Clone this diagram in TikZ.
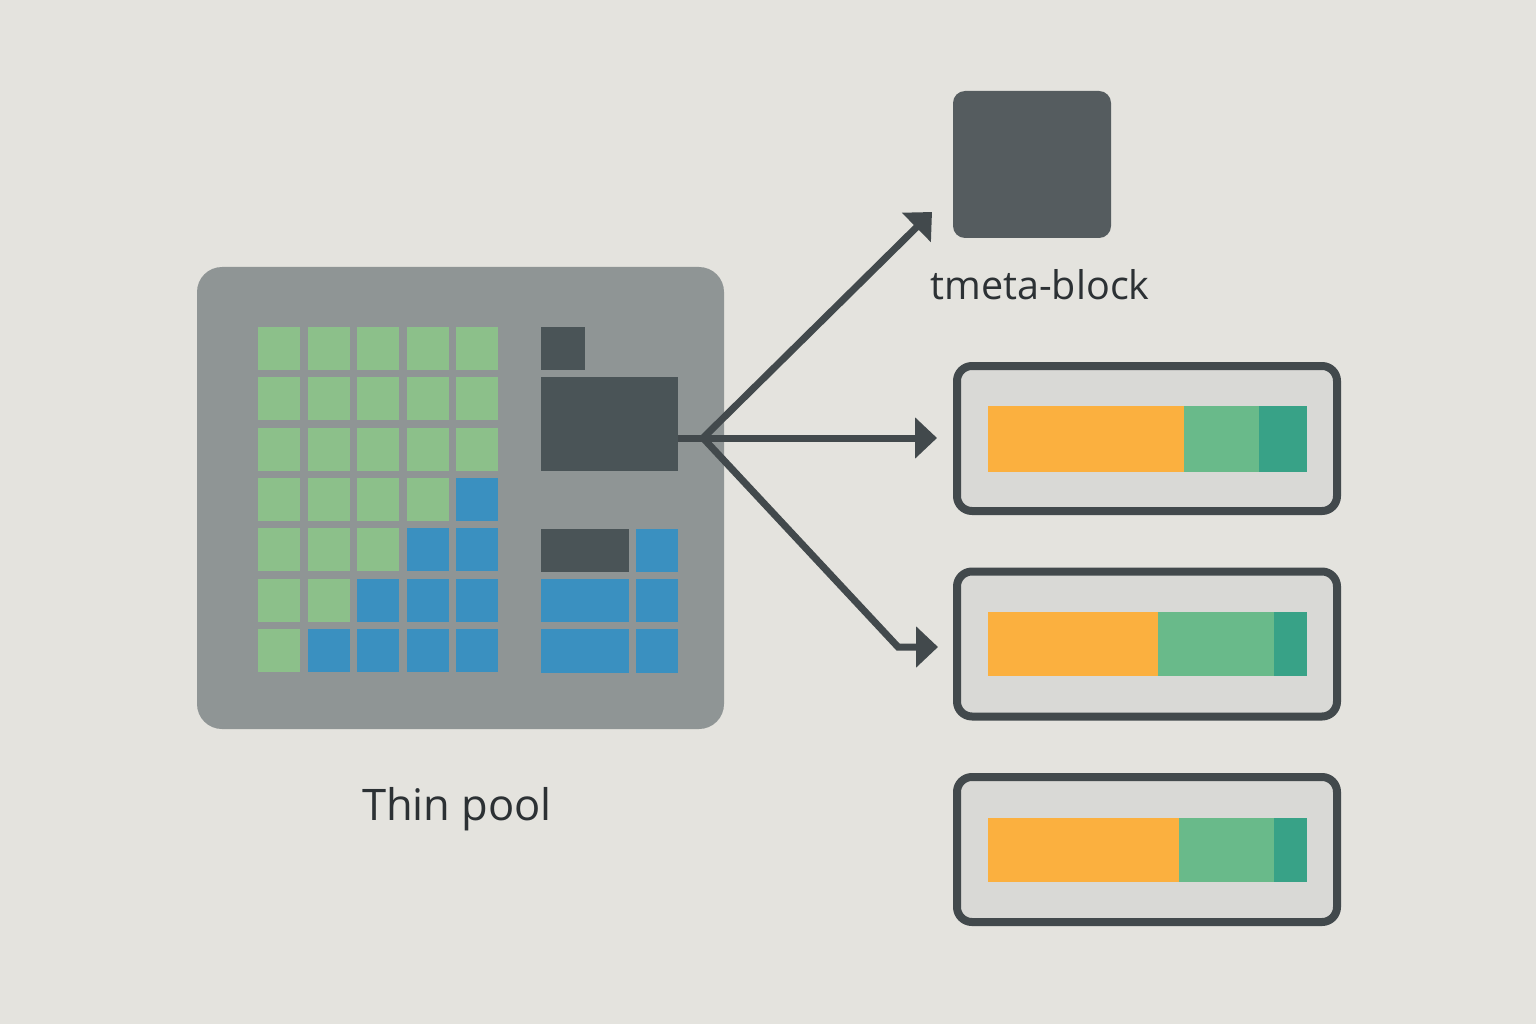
\documentclass[tikz,border=0pt]{standalone}
\usepackage{fontspec}
\setmainfont{Open Sans}
\usepackage{xcolor}
\usepackage{tikz}
\usetikzlibrary{positioning,arrows.meta}

\definecolor{bgcol}{HTML}{E4E3DE}
\definecolor{poolgray}{HTML}{8F9595}
\definecolor{usedgreen}{HTML}{8CC08A}
\definecolor{freeblue}{HTML}{3A90C0}
\definecolor{metadark}{HTML}{4A5457}
\definecolor{tmetagray}{HTML}{555C5F}
\definecolor{linkgray}{HTML}{42494C}
\definecolor{lvfill}{HTML}{D9D9D6}
\definecolor{barorange}{HTML}{FBB03F}
\definecolor{bargreen}{HTML}{69BA8A}
\definecolor{barteal}{HTML}{38A287}
\definecolor{textdark}{HTML}{2C3134}

\tikzset{
  cell/.style={minimum width=42pt, minimum height=43pt, inner sep=0pt, outer sep=0pt},
  used/.style={cell, fill=usedgreen},
  free/.style={cell, fill=freeblue},
  blk/.style={inner sep=0pt, outer sep=0pt},
  lvbox/.style={draw=linkgray, line width=8pt, fill=lvfill, rounded corners=15pt,
    minimum width=380pt, minimum height=145pt, inner sep=0pt},
  link/.style={draw=linkgray, line width=7pt, -{Triangle[length=22pt,width=40pt]}},
  caption/.style={text=textdark, anchor=base, inner sep=0pt}
}

\begin{document}
\begin{tikzpicture}[x=1pt,y=-1pt]
\fill[bgcol] (0,0) rectangle (1536,1024);
\useasboundingbox (0,0) rectangle (1536,1024);

% thin pool
\node[fill=poolgray, rounded corners=25pt, minimum width=527pt, minimum height=462pt, inner sep=0pt] (pool) at (460.5,498) {};
\foreach \r in {1,...,7}{
  \foreach \c in {1,...,5}{
    \pgfmathtruncatemacro{\ng}{min(5,8-\r)}
    \ifnum\c>\ng
      \node[free] (c\r\c) at ({279+49.5*(\c-1)},{348.5+50.3*(\r-1)}) {};
    \else
      \node[used] (c\r\c) at ({279+49.5*(\c-1)},{348.5+50.3*(\r-1)}) {};
    \fi
  }
}
\node[blk, fill=metadark, minimum width=44pt, minimum height=43pt] (small) at (563,348.5) {};
\node[blk, fill=metadark, minimum width=137pt, minimum height=94pt] (meta) at (609.5,424) {};
\node[blk, fill=metadark, minimum width=88pt, minimum height=43pt] (d1) at (585,550.5) {};
\node[blk, fill=freeblue, minimum width=42pt, minimum height=43pt] (b1) at (657,550.5) {};
\node[blk, fill=freeblue, minimum width=88pt, minimum height=43pt] (b2) at (585,600.5) {};
\node[blk, fill=freeblue, minimum width=42pt, minimum height=43pt] (b3) at (657,600.5) {};
\node[blk, fill=freeblue, minimum width=88pt, minimum height=44pt] (b4) at (585,651) {};
\node[blk, fill=freeblue, minimum width=42pt, minimum height=44pt] (b5) at (657,651) {};
\node[caption, font=\fontsize{43.5}{52}\selectfont] (poolname) at (457,820) {Thin pool};

% tmeta
\node[blk, fill=tmetagray, rounded corners=12pt, minimum width=158pt, minimum height=147pt] (tmeta) at (1032,164.5) {};
\node[caption, font=\fontsize{39.5}{47}\selectfont] (tmetaname) at (1040,299) {tmeta-block};

% thin volumes
\node[lvbox] (lv1) at (1147,438.5) {};
\node[lvbox] (lv2) at (1147,644) {};
\node[lvbox] (lv3) at (1147,849.5) {};
\fill[barorange] (988,406) rectangle (1184,472);
\fill[bargreen] (1184,406) rectangle (1259,472);
\fill[barteal] (1259,406) rectangle (1307,472);
\fill[barorange] (988,612) rectangle (1158,676);
\fill[bargreen] (1158,612) rectangle (1274,676);
\fill[barteal] (1274,612) rectangle (1307,676);
\fill[barorange] (988,818) rectangle (1179,882);
\fill[bargreen] (1179,818) rectangle (1274,882);
\fill[barteal] (1274,818) rectangle (1307,882);

% links
\coordinate (hub) at (703,438);
\coordinate (tip1) at (932,212);
\coordinate (tip2) at (937,438);
\coordinate (bend) at (898,647);
\coordinate (tip3) at (938,647);
\draw[linkgray, line width=7pt] (meta.east |- hub) -- (hub);
\draw[link] (hub) -- (tip1);
\draw[link] (hub) -- (tip2);
\draw[link, miter limit=4] (hub) -- (bend) -- (tip3);
\end{tikzpicture}
\end{document}
